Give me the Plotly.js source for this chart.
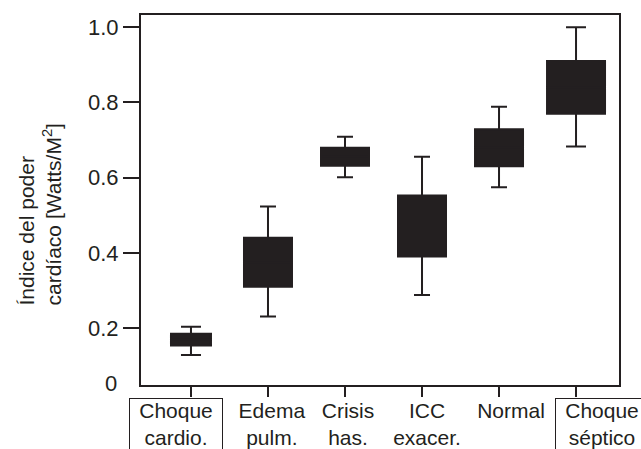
<!DOCTYPE html>
<html>
<head>
<meta charset="utf-8">
<script src="https://cdn.plot.ly/plotly-3.0.1.min.js"></script>
<style>html,body{margin:0;padding:0;background:#fff;}#chart{width:641px;height:449px;}</style>
</head>
<body>
<div id="chart"></div>
<script>
// ---- data ----
const categories = ['Choque cardio.', 'Edema pulm.', 'Crisis has.', 'ICC exacer.', 'Normal', 'Choque séptico'];
const lowerWhisker = [0.129, 0.231, 0.601, 0.288, 0.574, 0.682];
const q1Values     = [0.154, 0.310, 0.631, 0.390, 0.630, 0.769];
const medianValues = [0.169, 0.375, 0.655, 0.471, 0.679, 0.839];
const q3Values     = [0.185, 0.440, 0.679, 0.552, 0.728, 0.909];
const upperWhisker = [0.204, 0.523, 0.708, 0.655, 0.788, 0.999];
const xTickLabels  = ['Choque<br>cardio.', 'Edema<br>pulm.', 'Crisis<br>has.', 'ICC<br>exacer.', 'Normal', 'Choque<br>séptico'];
const framedLabels = [true, false, false, false, false, true];
const yTickVals = [0.2, 0.4, 0.6, 0.8, 1.0];
const yTickText = ['0.2', '0.4', '0.6', '0.8', '1.0'];
const yOriginLabel = '0';
const yTitleLines = ['Índice del poder', 'cardíaco [Watts/M<sup>2</sup>]'];

// ---- styles ----
const ink = '#231f20';
const FONT = 'Arial, "Liberation Sans", Helvetica, sans-serif';
const xRange = [-0.649, 5.558];
const yRange = [0.0492, 1.0314];
const pxPerCat = 478 / (xRange[1] - xRange[0]);
const boxWidthPx = [42, 50, 50, 50, 50, 60];
const capWidthPx = [20, 16, 16, 16, 16, 20];
const labelShiftPx = [-15, 4, 3, 5, 12, 26];

const traces = categories.map((c, i) => ({
  type: 'box',
  x: [c],
  q1: [q1Values[i]],
  median: [medianValues[i]],
  q3: [q3Values[i]],
  lowerfence: [lowerWhisker[i]],
  upperfence: [upperWhisker[i]],
  width: (boxWidthPx[i] - 2) / pxPerCat,
  whiskerwidth: capWidthPx[i] / (boxWidthPx[i] - 2),
  fillcolor: ink,
  line: {color: ink, width: 2},
  boxpoints: false,
  hoverinfo: 'skip',
  showlegend: false
}));

const annotations = categories.map((c, i) => ({
  xref: 'x', x: i, xshift: labelShiftPx[i],
  yref: 'paper', y: -0.0351, yanchor: 'top', xanchor: 'center',
  text: xTickLabels[i],
  showarrow: false,
  width: 92, height: 66, valign: 'top',
  borderwidth: 1, borderpad: 0,
  bordercolor: framedLabels[i] ? ink : 'rgba(0,0,0,0)',
  font: {family: FONT, size: 21, color: ink}
}));
annotations.push({
  xref: 'paper', x: (119 - 141) / 478, xanchor: 'right',
  yref: 'y', y: yRange[0], yanchor: 'middle', yshift: 2,
  text: yOriginLabel, showarrow: false,
  font: {family: FONT, size: 22, color: ink}
});
annotations.push({
  xref: 'paper', x: (40 - 141) / 478, xanchor: 'center',
  yref: 'paper', y: (385 - 214.5) / 370, yanchor: 'middle',
  text: yTitleLines.join('<br>'), textangle: -90, align: 'left',
  showarrow: false,
  font: {family: FONT, size: 21, color: ink}
});

const layout = {
  width: 641, height: 449,
  margin: {l: 141, r: 22, t: 15, b: 64},
  paper_bgcolor: '#fff', plot_bgcolor: '#fff',
  boxmode: 'overlay',
  showlegend: false,
  font: {family: FONT, size: 22, color: ink},
  xaxis: {
    type: 'category', categoryorder: 'array', categoryarray: categories,
    range: xRange, showgrid: false, zeroline: false,
    showline: true, mirror: true, linewidth: 2, linecolor: ink,
    ticks: 'outside', ticklen: 10, tickwidth: 2, tickcolor: ink,
    showticklabels: false, fixedrange: true
  },
  xaxis2: {
    overlaying: 'x', anchor: 'y', side: 'bottom', type: 'linear',
    range: xRange, tickvals: categories.map((c, i) => i),
    ticks: 'inside', ticklen: 10, tickwidth: 2, tickcolor: ink,
    showticklabels: false, showgrid: false, zeroline: false, showline: false
  },
  yaxis: {
    range: yRange, tickvals: yTickVals, ticktext: yTickText,
    showgrid: false, zeroline: false,
    showline: true, mirror: true, linewidth: 2, linecolor: ink,
    ticks: 'outside', ticklen: 16, tickwidth: 2, tickcolor: ink,
    tickfont: {family: FONT, size: 22, color: ink}
  },
  annotations: annotations
};

Plotly.newPlot('chart', traces, layout, {staticPlot: true, displayModeBar: false});
</script>
</body>
</html>
